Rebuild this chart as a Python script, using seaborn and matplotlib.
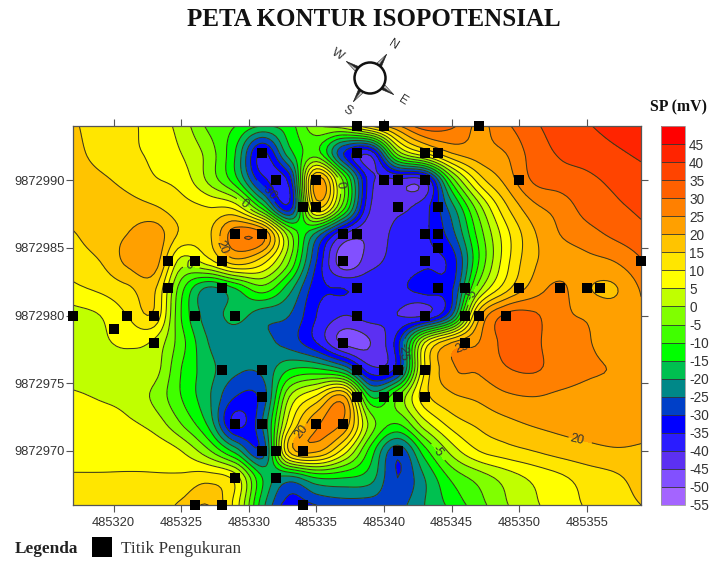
import numpy as np
import pandas as pd
import matplotlib
matplotlib.use("Agg")
import matplotlib.pyplot as plt
from matplotlib.colors import ListedColormap, BoundaryNorm
from matplotlib.lines import Line2D
from matplotlib.patches import Circle, Polygon
import seaborn as sns

# Nilai SP dibaca dari peta, grid 2 m
grid_x = [485317, 485319, 485321, 485323, 485325, 485327, 485329, 485331, 485333, 485335, 485337,
          485339, 485341, 485343, 485345, 485347, 485349, 485351, 485353, 485355, 485357, 485359]
grid_y = [9872994, 9872992, 9872990, 9872988, 9872986, 9872984, 9872982, 9872980,
          9872978, 9872976, 9872974, 9872972, 9872970, 9872968, 9872966]

sp_994 = [16, 12, 11, 8, 3, -6, -10, -15, -12, -1, 3, 15, 24, 33, 31, 24, 29, 34, 37, 39.5, 42, 44]
sp_992 = [17, 13, 11, 9, 5, -2, -15, -36, -17, -8, -30, -38, -3, 10, 20, 23, 25, 32, 35.5, 37, 39, 41]
sp_990 = [18, 16, 13.5, 10.5, 8, -1, -13, -33, -33, 22, -6, -38, -41, -40, -8, 12, 21.5, 30.5, 32.5, 34, 36, 38]
sp_988 = [18, 18, 17, 15.5, 12, 10, 8, -12, -33, 15, -8, -40, -41, -37, -22, -2, 14, 23.5, 27, 32, 34, 36]
sp_986 = [14.5, 18, 20, 23, 14, 14, 28, 26, -3, -22, -40, -44, -38, -36, -27, -8, 8, 19, 25, 28, 31, 33.5]
sp_984 = [12, 15, 21, 23, 3, 8, 18, 12, -5, -30, -48, -42, -38, -36, -33, -10, 8, 19, 22, 23.5, 25, 29.5]
sp_982 = [9, 11, 14, 16, -8, -21, -15, -7, -18, -33, -35, -36, -36, -33, -31, -2, 13, 22, 26, 20.5, 19.5, 25.5]
sp_980 = [3, 5, 10, 14, -10, -22, -18, -23, -25, -35, -40, -38, -40, -40, -25, 18, 31, 31, 26, 24.5, 22.5, 24.5]
sp_978 = [3, 4, 6, 4, -8, -20, -24, -24, -27, -35, -46, -45, -32, 5, 20, 25, 31.5, 31.5, 26, 25.5, 22, 23]
sp_976 = [2, 2, 2, 2, -10, -18, -24, -24, -15, -14, -20, -38, -32, 10, 24, 25.5, 29.5, 30.5, 28, 26, 24.5, 21.5]
sp_974 = [6, 4.5, 3, -1, -10, -19, -30, -28, 0, 11, 21, -15, -5, 13, 19, 21, 24, 25, 24, 23, 22, 21.5]
sp_972 = [8, 8, 6, 3, -5, -16, -36, -25, 8, 24, 24, -2, -10, 3, 12, 16, 18.5, 20.5, 21.5, 22, 22, 21]
sp_970 = [9, 9, 9, 8.5, 5, -4, -17, -28, 16, 21, 8, -12, -28, -12, 2, 10, 13, 15, 17, 18.5, 19.5, 19.5]
sp_968 = [10.3, 10.3, 10.3, 10.3, 11, 13, 8, -15, -22, -15, -15, -18, -30, -20, -9, -3, 2, 6, 9, 12, 14, 17]
sp_966 = [12, 12, 12, 12, 16, 20, 8, -18, -33, -30, -28, -28, -27, -20, -13.5, -7, -0.5, 4, 7.5, 10.5, 13, 15]

# Titik pengukuran
titik_x = [485338, 485340, 485347,
           485331, 485338, 485343, 485344,
           485332, 485335, 485340, 485341, 485343, 485350,
           485334, 485335, 485341, 485344,
           485329, 485331, 485337, 485338, 485343, 485344,
           485344,
           485324, 485326, 485328, 485337, 485343, 485359,
           485324, 485328, 485338, 485344, 485346, 485350, 485353, 485355, 485356,
           485317, 485321, 485323, 485326, 485329, 485338, 485343, 485346, 485347, 485349,
           485320,
           485323, 485337, 485346,
           485328, 485331, 485338, 485340, 485341, 485343,
           485331, 485338, 485340, 485341, 485343,
           485329, 485331, 485335, 485337,
           485331, 485332, 485334, 485341,
           485329, 485332,
           485326, 485328, 485334]
titik_y = [9872994, 9872994, 9872994,
           9872992, 9872992, 9872992, 9872992,
           9872990, 9872990, 9872990, 9872990, 9872990, 9872990,
           9872988, 9872988, 9872988, 9872988,
           9872986, 9872986, 9872986, 9872986, 9872986, 9872986,
           9872985,
           9872984, 9872984, 9872984, 9872984, 9872984, 9872984,
           9872982, 9872982, 9872982, 9872982, 9872982, 9872982, 9872982, 9872982, 9872982,
           9872980, 9872980, 9872980, 9872980, 9872980, 9872980, 9872980, 9872980, 9872980, 9872980,
           9872979,
           9872978, 9872978, 9872978,
           9872976, 9872976, 9872976, 9872976, 9872976, 9872976,
           9872974, 9872974, 9872974, 9872974, 9872974,
           9872972, 9872972, 9872972, 9872972,
           9872970, 9872970, 9872970, 9872970,
           9872968, 9872968,
           9872966, 9872966, 9872966]

levels = [-55, -50, -45, -40, -35, -30, -25, -20, -15, -10, -5, 0, 5, 10, 15, 20, 25, 30, 35, 40, 45, 50]
warna = ["#a464ff", "#8250ff", "#5c30f2", "#2a1cff", "#0000ff", "#0040c8", "#008888", "#00c050",
         "#00ff00", "#40ff00", "#80ff00", "#c0ff00", "#ffff00", "#ffe600", "#ffc400", "#ffa000",
         "#ff8000", "#ff6000", "#ff4400", "#ff2400", "#ff0000"]


def haluskan(z, n=8):
    # kurva Catmull-Rom sepanjang sumbu 0, supaya garis konturnya tidak patah-patah
    p = np.concatenate([2 * z[:1] - z[1:2], z, 2 * z[-1:] - z[-2:-1]])
    hasil = []
    for i in range(1, len(p) - 2):
        for t in np.arange(n) / n:
            hasil.append(0.5 * (2 * p[i] + (p[i + 1] - p[i - 1]) * t
                                + (2 * p[i - 1] - 5 * p[i] + 4 * p[i + 1] - p[i + 2]) * t ** 2
                                + (3 * p[i] - p[i - 1] - 3 * p[i + 1] + p[i + 2]) * t ** 3))
    hasil.append(z[-1])
    return np.array(hasil)


sns.set_theme(style="ticks")
plt.rcParams['font.family'] = ['Liberation Sans', 'DejaVu Sans']

fig = plt.figure(figsize=(7.14, 5.61), dpi=100)
ax = fig.add_axes([73 / 714, 1 - 505 / 561, 568 / 714, 379 / 561])

sp = np.array([sp_966, sp_968, sp_970, sp_972, sp_974, sp_976, sp_978, sp_980,
               sp_982, sp_984, sp_986, sp_988, sp_990, sp_992, sp_994], dtype=float)
sp_halus = haluskan(haluskan(sp).T).T
sp_halus = np.clip(sp_halus, -54.9, 49.9)
xx = np.linspace(min(grid_x), max(grid_x), sp_halus.shape[1])
yy = np.linspace(min(grid_y), max(grid_y), sp_halus.shape[0])

cmap = ListedColormap(warna)
norm = BoundaryNorm(levels, cmap.N)
cf = ax.contourf(xx, yy, sp_halus, levels=levels, cmap=cmap, norm=norm)
cs = ax.contour(xx, yy, sp_halus, levels=levels, colors="#3a3a1a", linewidths=0.75, linestyles="solid")

df = pd.DataFrame({"x": titik_x, "y": titik_y})
sns.scatterplot(data=df, x="x", y="y", ax=ax, marker="s", s=62, color="black",
                linewidth=0, clip_on=False, zorder=5, legend=False)

ax.set_xlim(485317, 485359)
ax.set_ylim(9872966, 9872994)
ax.set_xlabel("")
ax.set_ylabel("")
ax.set_xticks([485320, 485325, 485330, 485335, 485340, 485345, 485350, 485355])
ax.set_yticks([9872970, 9872975, 9872980, 9872985, 9872990])
ax.ticklabel_format(useOffset=False, style="plain")
ax.tick_params(top=True, right=True, bottom=True, left=True, direction="out", length=5,
               width=0.8, color="#555555", labelsize=9.3, labelcolor="#333333")
ax.tick_params(axis="x", pad=4)
ax.tick_params(axis="y", pad=1)
for s in ax.spines.values():
    s.set_visible(True)
    s.set_color("#555555")
    s.set_linewidth(0.9)

# Colorbar
cax = fig.add_axes([661 / 714, 1 - 505 / 561, 24 / 714, 379 / 561])
cb = fig.colorbar(cf, cax=cax, spacing="uniform", drawedges=True)
cb.set_ticks(levels[:-1])
cb.set_ticklabels([str(v) for v in levels[:-1]])
cb.minorticks_off()
cb.ax.tick_params(length=0, labelsize=9.8, labelcolor="#333333", pad=3)
cb.dividers.set_color("#333333")
cb.dividers.set_linewidth(0.6)
cb.outline.set_edgecolor("#999999")
cb.outline.set_linewidth(0.6)

serif = ['Liberation Serif', 'DejaVu Serif']
fig.text(374 / 714, 1 - 20 / 561, "PETA KONTUR ISOPOTENSIAL", ha="center", va="center",
         family=serif, fontweight="bold", fontsize=18, color="#111111")
fig.text(679 / 714, 1 - 107 / 561, "SP (mV)", ha="center", va="center",
         family=serif, fontweight="bold", fontsize=11.4, color="#111111")

# Kompas
kompas = fig.add_axes([320 / 714, 1 - 125 / 561, 100 / 714, 88 / 561])
kompas.set_xlim(320, 420)
kompas.set_ylim(125, 37)
kompas.axis("off")
arah = {"N": 35, "E": 125, "S": 215, "W": 305}
for huruf, sudut in arah.items():
    t = np.deg2rad(sudut)
    ux, uy = np.sin(t), -np.cos(t)
    px, py = -uy, ux
    ujung = (370 + 29 * ux, 78 + 29 * uy)
    kiri = (370 + 13 * ux + 3.5 * px, 78 + 13 * uy + 3.5 * py)
    kanan = (370 + 13 * ux - 3.5 * px, 78 + 13 * uy - 3.5 * py)
    kompas.add_patch(Polygon([ujung, kiri, (370 + 15 * ux, 78 + 15 * uy)], fc="#222222", ec="#222222", lw=0.4))
    kompas.add_patch(Polygon([ujung, kanan, (370 + 15 * ux, 78 + 15 * uy)], fc="#cccccc", ec="#222222", lw=0.4))
    kompas.text(370 + 40 * ux, 78 + 40 * uy, huruf, rotation=-32,
                ha="center", va="center", fontsize=9, color="#333333", rotation_mode="anchor")
kompas.add_patch(Circle((370, 78), 15.5, fc="white", ec="#111111", lw=1.8, zorder=5))

# Legenda
fig.text(15 / 714, 1 - 549 / 561, "Legenda", ha="left", va="center",
         family=serif, fontweight="bold", fontsize=12.4, color="#222222")
handle = Line2D([], [], marker="s", linestyle="none", color="black", markersize=14,
                markeredgewidth=0, label="Titik Pengukuran")
fig.legend(handles=[handle], loc="center left", bbox_to_anchor=(85 / 714, 1 - 549 / 561),
           frameon=False, handletextpad=0.1, prop={"family": serif, "size": 12.4},
           labelcolor="#333333", borderpad=0, borderaxespad=0)

# Label kontur
label_pos = [(485329.6, 9872988.2), (485331.3, 9872989), (485336.7, 9872989.6), (485327.8, 9872985),
             (485325.6, 9872983.4), (485346.6, 9872981.5), (485345.8, 9872977.2), (485354.4, 9872971.3),
             (485344.1, 9872970.1), (485333.9, 9872971.4), (485341.4, 9872977.3)]
ax.clabel(cs, levels=levels, manual=label_pos, fontsize=9, inline=True, fmt="%d", colors="#333333")

fig.savefig("out.png", dpi=100)
